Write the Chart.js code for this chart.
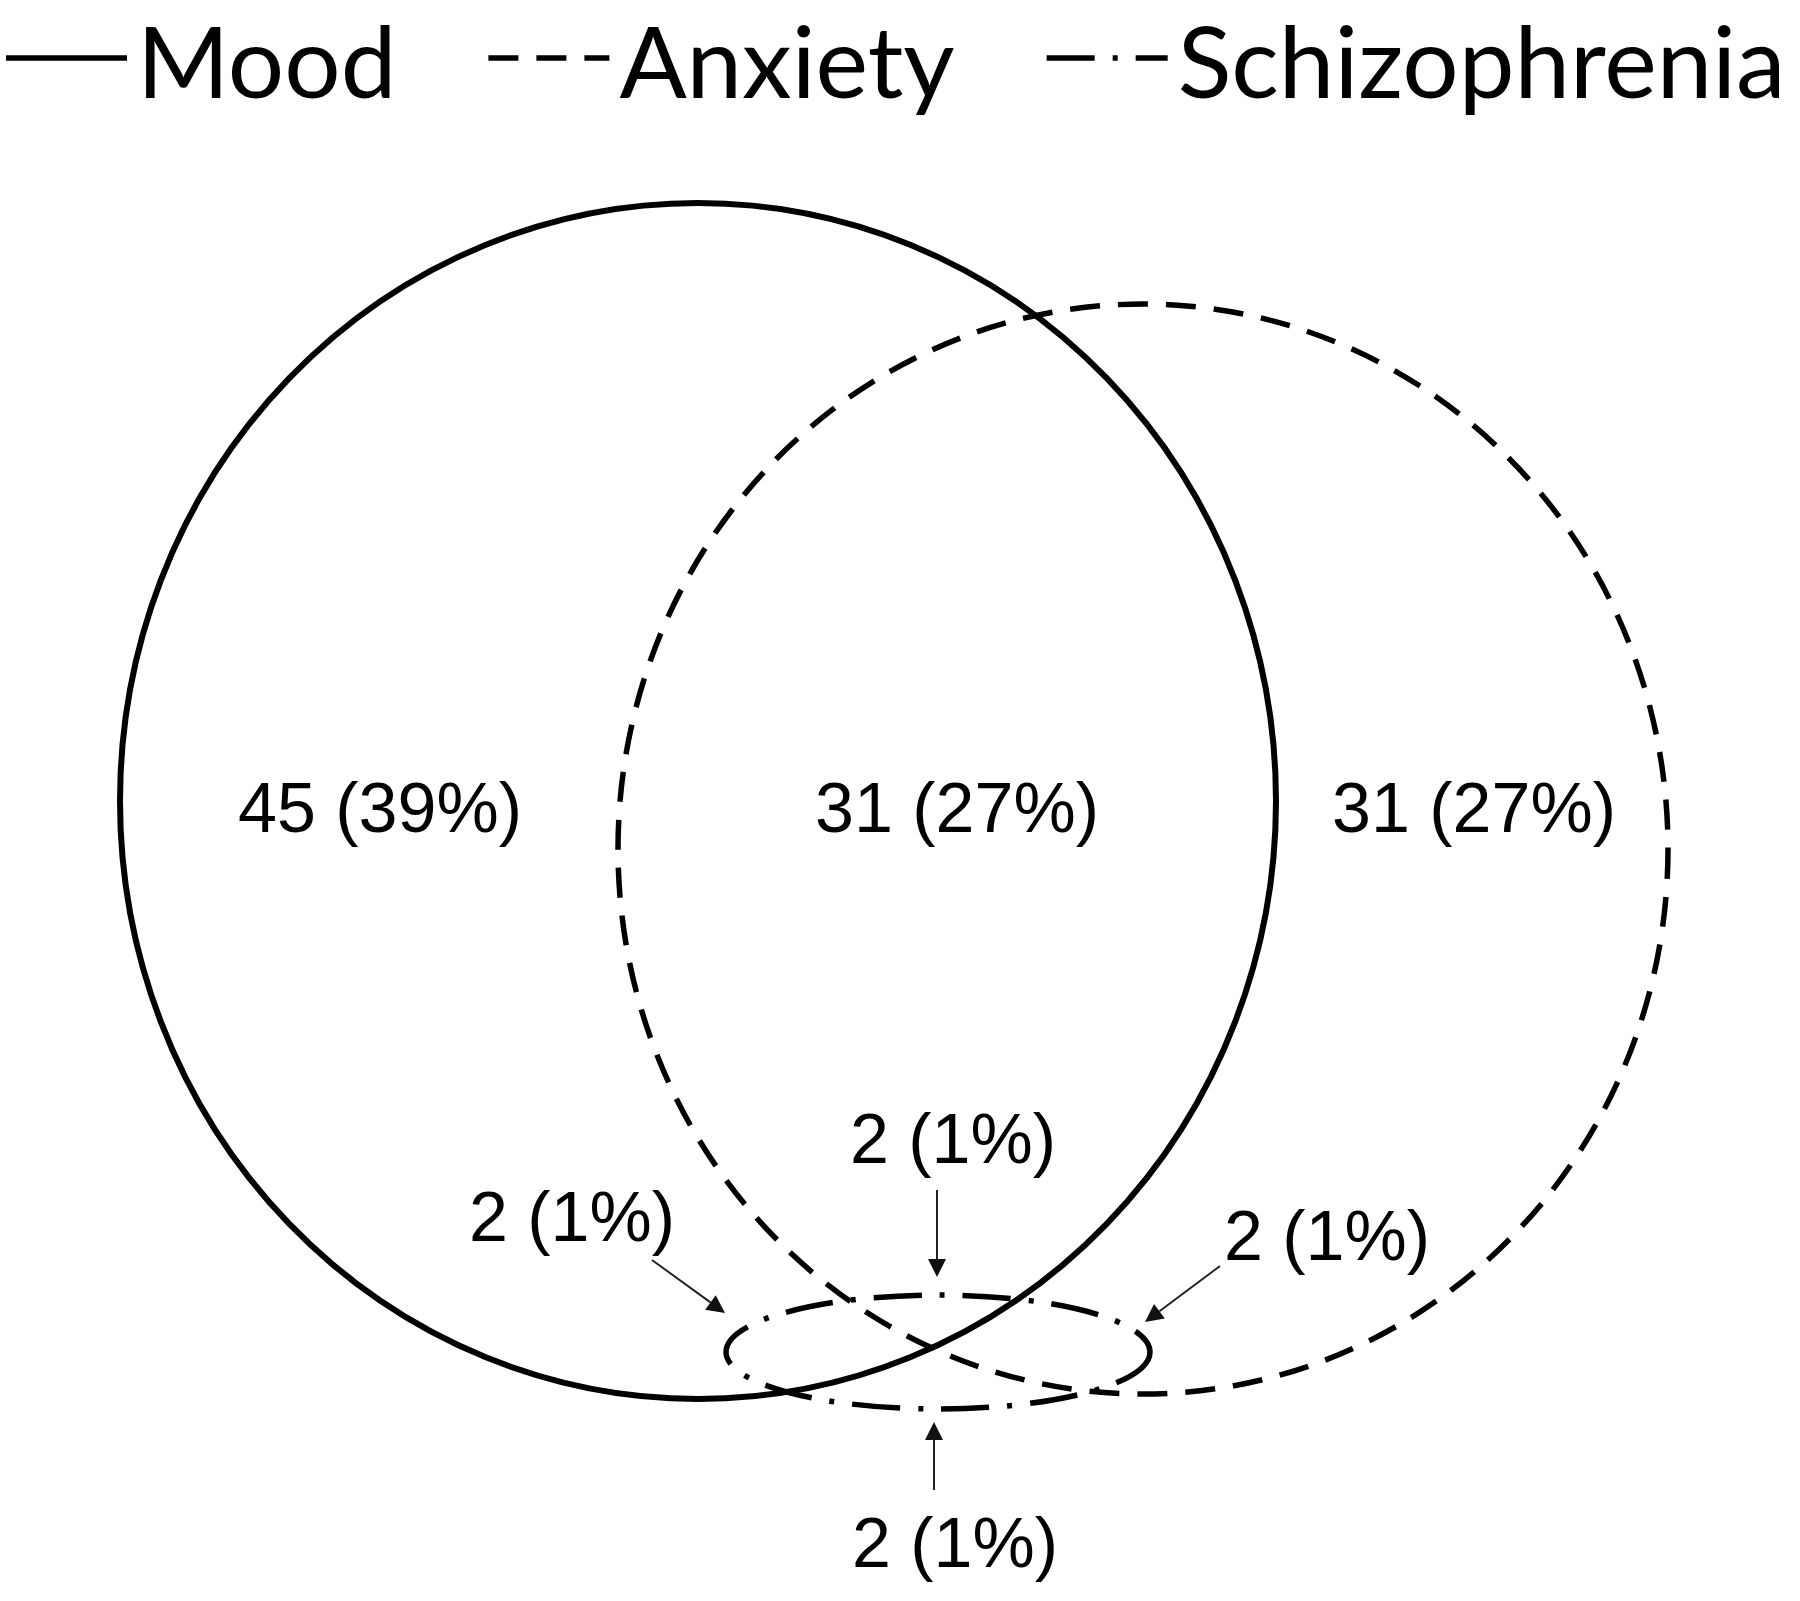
<!DOCTYPE html>
<html>
<head>
<meta charset="utf-8">
<title>Venn: Mood / Anxiety / Schizophrenia</title>
<script src="https://cdn.jsdelivr.net/npm/chart.js@4.4.1/dist/chart.umd.min.js"></script>
<style>
    html, body { margin: 0; padding: 0; background: #fff; }
    #wrap { width: 1800px; height: 1601px; position: relative; }
</style>
</head>
<body>
<div id="wrap"><canvas id="venn"></canvas></div>
<script>
// sets: ellipse centre and radii, in plot units (180 x 160.1)
const setNames = ['Mood', 'Anxiety', 'Schizophrenia'];
const setCenterX = [69.8, 114.3, 93.8];
const setCenterY = [80.1, 84.9, 135.2];
const setRadiusX = [57.8, 52.5, 21.2];
const setRadiusY = [59.8, 54.5, 5.7];

// region counts
const regionLabels = ['45 (39%)', '31 (27%)', '31 (27%)', '2 (1%)', '2 (1%)', '2 (1%)', '2 (1%)'];
const regionX = [38.0, 95.7, 147.4, 95.3, 57.2, 132.7, 95.5];
const regionY = [81.3, 81.3, 81.3, 114.4, 122.2, 124.1, 154.8];

// pointer arrows for the small regions
const arrowFromX = [93.7, 93.4, 65.2, 122.0];
const arrowFromY = [119.0, 149.0, 126.0, 126.6];
const arrowToX = [93.7, 93.4, 72.5, 114.5];
const arrowToY = [127.7, 142.2, 131.3, 132.2];

const setStyles = [
    { borderDash: [], borderWidth: 6 },
    { borderDash: [30, 18], borderWidth: 5.5 },
    { borderDash: [48, 18, 5, 18], borderWidth: 5.5 }
];

const datasets = setNames.map((name, i) => ({
    label: name,
    data: [{ x: setCenterX[i], y: setCenterY[i] }],
    radiusX: setRadiusX[i],
    radiusY: setRadiusY[i],
    borderColor: '#000',
    borderWidth: setStyles[i].borderWidth,
    borderDash: setStyles[i].borderDash,
    pointRadius: 0,
    showLine: false
}));

// draws each set as an ellipse around its centre point
const ellipsePlugin = {
    id: 'ellipses',
    afterDatasetsDraw(chart) {
        const { ctx, scales: { x, y } } = chart;
        chart.data.datasets.forEach(ds => {
            const c = ds.data[0];
            const px = x.getPixelForValue(c.x);
            const py = y.getPixelForValue(c.y);
            const rx = Math.abs(x.getPixelForValue(c.x + ds.radiusX) - px);
            const ry = Math.abs(y.getPixelForValue(c.y + ds.radiusY) - py);
            ctx.save();
            ctx.beginPath();
            ctx.ellipse(px, py, rx, ry, 0, 0, Math.PI * 2);
            ctx.lineWidth = ds.borderWidth;
            ctx.strokeStyle = ds.borderColor;
            ctx.setLineDash(ds.borderDash);
            ctx.stroke();
            ctx.restore();
        });
    }
};

const labelPlugin = {
    id: 'regionLabels',
    afterDatasetsDraw(chart) {
        const { ctx, scales: { x, y } } = chart;
        ctx.save();
        ctx.font = '70px "Liberation Sans", Arial, sans-serif';
        ctx.fillStyle = '#000';
        ctx.textAlign = 'center';
        ctx.textBaseline = 'middle';
        regionLabels.forEach((t, i) => {
            ctx.fillText(t, x.getPixelForValue(regionX[i]), y.getPixelForValue(regionY[i]));
        });

        // arrows
        ctx.strokeStyle = '#222';
        ctx.fillStyle = '#111';
        ctx.lineWidth = 2;
        arrowFromX.forEach((_, i) => {
            const x0 = x.getPixelForValue(arrowFromX[i]);
            const y0 = y.getPixelForValue(arrowFromY[i]);
            const x1 = x.getPixelForValue(arrowToX[i]);
            const y1 = y.getPixelForValue(arrowToY[i]);
            const a = Math.atan2(y1 - y0, x1 - x0);
            const len = 18, half = 9;
            const bx = x1 - Math.cos(a) * len;
            const by = y1 - Math.sin(a) * len;
            ctx.beginPath();
            ctx.moveTo(x0, y0);
            ctx.lineTo(bx, by);
            ctx.stroke();
            ctx.beginPath();
            ctx.moveTo(x1, y1);
            ctx.lineTo(bx - Math.sin(a) * half, by + Math.cos(a) * half);
            ctx.lineTo(bx + Math.sin(a) * half, by - Math.cos(a) * half);
            ctx.closePath();
            ctx.fill();
        });
        ctx.restore();
    }
};

// legend across the top: line sample then label
const legendPlugin = {
    id: 'lineLegend',
    afterDraw(chart) {
        const { ctx } = chart;
        let cursor = 6;
        const lineY = 58, baseY = 98, lineLen = 121;
        ctx.save();
        ctx.font = '99.5px Lato, "Open Sans", sans-serif';
        ctx.textBaseline = 'alphabetic';
        ctx.fillStyle = '#000';
        chart.data.datasets.forEach(ds => {
            ctx.beginPath();
            ctx.setLineDash(ds.borderDash);
            ctx.lineWidth = 5.5;
            ctx.strokeStyle = '#000';
            ctx.moveTo(cursor, lineY);
            ctx.lineTo(cursor + lineLen, lineY);
            ctx.stroke();
            ctx.setLineDash([]);
            const tx = cursor + lineLen + 10;
            ctx.fillText(ds.label, tx, baseY);
            cursor = tx + ctx.measureText(ds.label).width + 92;
        });
        ctx.restore();
    }
};

new Chart(document.getElementById('venn'), {
    type: 'scatter',
    data: { datasets },
    options: {
        responsive: true,
        maintainAspectRatio: false,
        animation: false,
        events: [],
        layout: { padding: 0 },
        scales: {
            x: { type: 'linear', min: 0, max: 180, display: false },
            y: { type: 'linear', min: 0, max: 160.1, reverse: true, display: false }
        },
        plugins: {
            legend: { display: false },
            tooltip: { enabled: false }
        }
    },
    plugins: [ellipsePlugin, labelPlugin, legendPlugin]
});
</script>
</body>
</html>
